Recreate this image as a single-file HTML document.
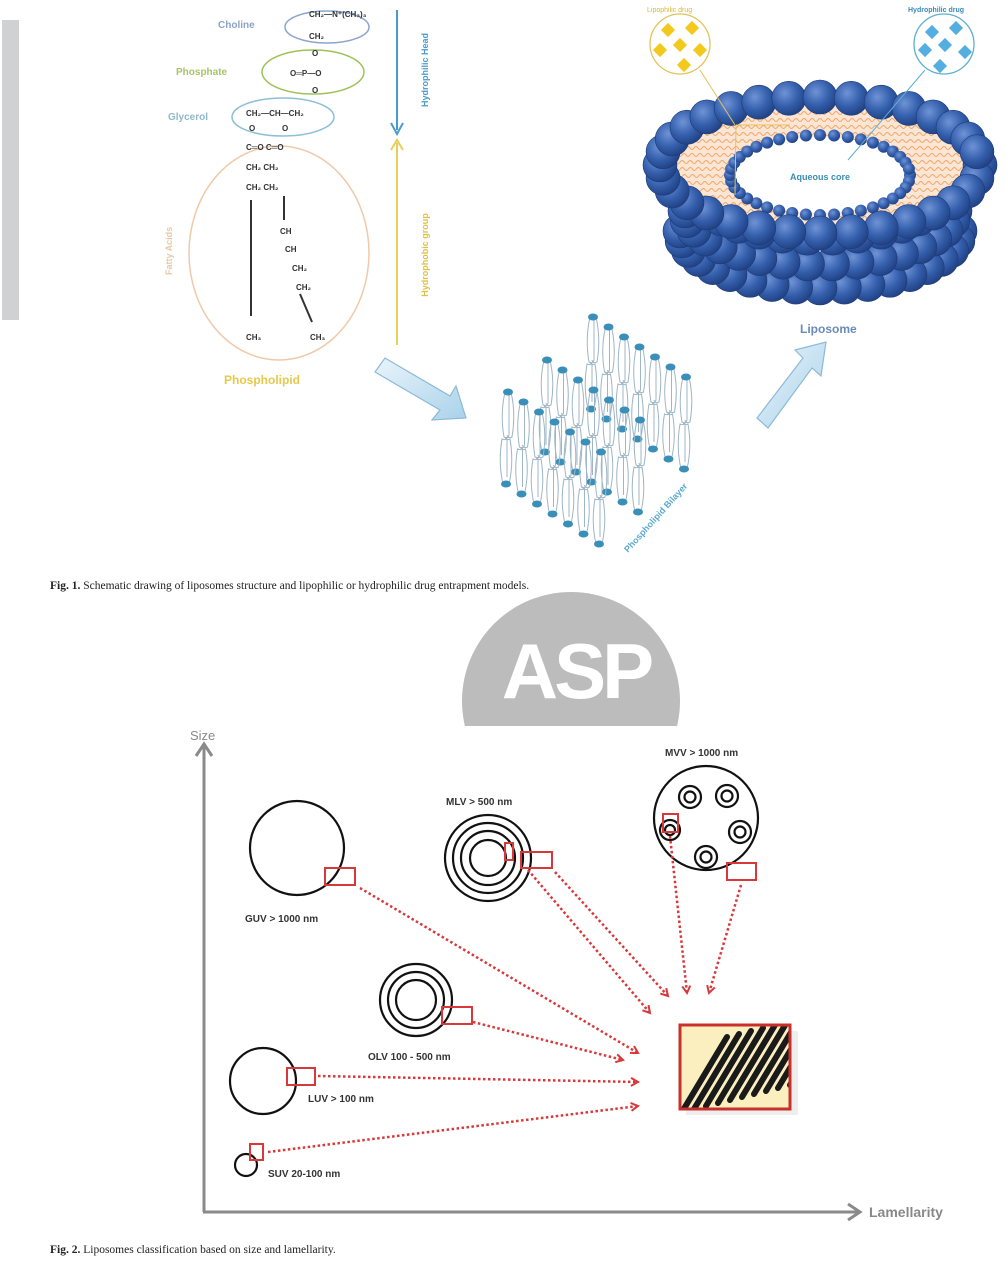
<!DOCTYPE html>
<html><head><meta charset="utf-8"><style>
html,body{margin:0;padding:0;background:#fff;}
svg{display:block;}
</style></head><body>
<svg id="s" width="1007" height="1271" viewBox="0 0 1007 1271" xmlns="http://www.w3.org/2000/svg" font-family="Liberation Sans, sans-serif">
<defs>
<radialGradient id="bead" cx="0.38" cy="0.35" r="0.7">
<stop offset="0" stop-color="#6f93d6"/><stop offset="0.55" stop-color="#3560ad"/><stop offset="1" stop-color="#1f3f80"/>
</radialGradient>
<linearGradient id="arr" x1="0" y1="0" x2="1" y2="1"><stop offset="0" stop-color="#eaf4fb"/><stop offset="1" stop-color="#a9d2ea"/></linearGradient>
<marker id="rh" viewBox="0 0 10 10" refX="8" refY="5" markerWidth="4" markerHeight="4" orient="auto"><path d="M1,1 L8,5 L1,9" fill="none" stroke="#d9383a" stroke-width="2"/></marker>
<clipPath id="cl"><rect x="0" y="590" width="1007" height="136"/></clipPath>
<clipPath id="boxc"><rect x="681" y="1026" width="108" height="82"/></clipPath>
</defs>
<rect x="2" y="20" width="17" height="300" fill="#cfd1d3"/>

<g font-size="10" font-weight="bold">
<text x="218" y="28" fill="#8aa3c6">Choline</text>
<text x="176" y="75" fill="#a7c46a">Phosphate</text>
<text x="168" y="120" fill="#90b8cc">Glycerol</text>
<text x="172" y="275" fill="#e6c9a4" transform="rotate(-90 172 275)" font-size="9">Fatty Acids</text>
<text x="224" y="384" fill="#e8c84a" font-size="12">Phospholipid</text>
</g>
<ellipse cx="327" cy="27" rx="42" ry="16" fill="none" stroke="#8ba5cf" stroke-width="1.5"/>
<ellipse cx="313" cy="72" rx="51" ry="22" fill="none" stroke="#9dc25a" stroke-width="1.5"/>
<ellipse cx="283" cy="117" rx="51" ry="19" fill="none" stroke="#8dc0d6" stroke-width="1.5"/>
<ellipse cx="279" cy="253" rx="90" ry="107" fill="none" stroke="#f0c9a9" stroke-width="1.5"/>
<g font-size="8" fill="#333" font-weight="bold">
<text x="309" y="17">CH₂—N⁺(CH₃)₃</text>
<text x="309" y="39">CH₂</text>
<text x="312" y="56">O</text>
<text x="290" y="76">O═P—O</text>
<text x="312" y="93">O</text>
<text x="246" y="116">CH₂—CH—CH₂</text>
<text x="249" y="131">O</text><text x="282" y="131">O</text>
<text x="246" y="150">C═O C═O</text>
<text x="246" y="170">CH₂ CH₂</text>
<text x="246" y="190">CH₂ CH₂</text>
<text x="280" y="234">CH</text><text x="285" y="252">CH</text>
<text x="292" y="271">CH₂</text><text x="296" y="290">CH₂</text>
<text x="246" y="340">CH₃</text><text x="310" y="340">CH₃</text>
</g>
<g stroke="#333" stroke-width="2" fill="none">
<line x1="251" y1="200" x2="251" y2="316"/>
<line x1="284" y1="196" x2="284" y2="220"/>
<line x1="300" y1="294" x2="312" y2="322"/>
</g>
<g stroke="#4a9bc9" stroke-width="2"><line x1="397" y1="10" x2="397" y2="130"/></g>
<path d="M391,123 L397,134 L403,123" fill="none" stroke="#4a9bc9" stroke-width="2"/>
<line x1="397" y1="143" x2="397" y2="345" stroke="#e8cf5a" stroke-width="2"/>
<path d="M391,150 L397,140 L403,150" fill="none" stroke="#e8cf5a" stroke-width="2"/>
<text x="428" y="70" fill="#4a9bc9" font-size="9" font-weight="bold" transform="rotate(-90 428 70)" text-anchor="middle">Hydrophilic Head</text>
<text x="428" y="255" fill="#e0c040" font-size="9" font-weight="bold" transform="rotate(-90 428 255)" text-anchor="middle">Hydrophobic group</text>

<path d="M375,372 L385,358 L450,396 L456,386 L466,418 L432,420 L440,410 Z" fill="url(#arr)" stroke="#8cbad6" stroke-width="1.2"/>
<path d="M757,418 L768,428 L812,368 L821,376 L826,342 L795,350 L803,358 Z" fill="url(#arr)" stroke="#8cbad6" stroke-width="1.2"/>

<g id="bilayer"></g>
<text x="628" y="553" fill="#5aa9cf" font-size="9" font-weight="bold" transform="rotate(-48 628 553)">Phospholipid Bilayer</text>

<g id="lipo"></g>
<text x="800" y="333" fill="#6a8ab8" font-size="12" font-weight="bold">Liposome</text>
<text x="647" y="12" fill="#d9b63a" font-size="7">Lipophilic drug</text>
<text x="908" y="12" fill="#3a8ab5" font-size="7" font-weight="bold">Hydrophilic drug</text>
<circle cx="680" cy="44" r="30" fill="#fff" stroke="#e2c35a" stroke-width="1.3"/>
<circle cx="944" cy="44" r="30" fill="#fff" stroke="#5ab0cf" stroke-width="1.3"/>
<g id="drugs"></g>
<line x1="700" y1="70" x2="735" y2="125" stroke="#e2c35a" stroke-width="1"/>
<line x1="925" y1="70" x2="848" y2="160" stroke="#5ab0cf" stroke-width="1"/>

<text x="50" y="589" font-family="Liberation Serif, serif" font-size="11.5" fill="#222"><tspan font-weight="bold">Fig. 1.</tspan>   Schematic drawing of liposomes structure and lipophilic or hydrophilic drug entrapment models.</text>

<g clip-path="url(#cl)"><circle cx="571" cy="701" r="109" fill="#bcbcbc"/></g>
<text x="576" y="698" text-anchor="middle" font-size="78" font-weight="bold" fill="#fff" letter-spacing="-4">ASP</text>

<g stroke="#8a8a8a" stroke-width="3" fill="none">
<line x1="204" y1="747" x2="204" y2="1212"/>
<line x1="203" y1="1212" x2="858" y2="1212"/>
<path d="M196,756 L204,744 L212,756"/>
<path d="M848,1204 L860,1212 L848,1220"/>
</g>
<text x="190" y="740" font-size="13" fill="#888">Size</text>
<text x="869" y="1217" font-size="14" fill="#888" font-weight="bold">Lamellarity</text>

<g fill="none" stroke="#111" stroke-width="2.2">
<circle cx="297" cy="848" r="47"/>
<circle cx="488" cy="858" r="43"/><circle cx="488" cy="858" r="35"/><circle cx="488" cy="858" r="27"/><circle cx="488" cy="858" r="18"/>
<circle cx="706" cy="818" r="52"/>
<circle cx="690" cy="797" r="11"/><circle cx="690" cy="797" r="5.5"/>
<circle cx="727" cy="796" r="11"/><circle cx="727" cy="796" r="5.5"/>
<circle cx="740" cy="832" r="11"/><circle cx="740" cy="832" r="5.5"/>
<circle cx="706" cy="857" r="11"/><circle cx="706" cy="857" r="5.5"/>
<circle cx="670" cy="830" r="10"/><circle cx="670" cy="830" r="5"/>
<circle cx="416" cy="1000" r="36"/><circle cx="416" cy="1000" r="28"/><circle cx="416" cy="1000" r="20"/>
<circle cx="263" cy="1081" r="33"/>
<circle cx="246" cy="1165" r="11"/>
</g>
<g fill="none" stroke="#d9383a" stroke-width="2">
<rect x="325" y="868" width="30" height="17"/>
<rect x="505" y="843" width="8" height="17"/>
<rect x="521" y="852" width="31" height="16"/>
<rect x="663" y="814" width="15" height="18"/>
<rect x="727" y="863" width="29" height="17"/>
<rect x="442" y="1007" width="30" height="17"/>
<rect x="287" y="1068" width="28" height="17"/>
<rect x="250" y="1144" width="13" height="16"/>
</g>
<g stroke="#d9383a" stroke-width="2.5" stroke-dasharray="2.5 2.5" fill="none" marker-end="url(#rh)">
<line x1="360" y1="888" x2="638" y2="1053"/>
<line x1="528" y1="870" x2="650" y2="1013"/>
<line x1="555" y1="872" x2="668" y2="996"/>
<line x1="670" y1="836" x2="687" y2="993"/>
<line x1="741" y1="885" x2="709" y2="993"/>
<line x1="473" y1="1022" x2="623" y2="1060"/>
<line x1="318" y1="1076" x2="638" y2="1082"/>
<line x1="268" y1="1152" x2="638" y2="1106"/>
</g>
<g font-size="10" font-weight="bold" fill="#333">
<text x="245" y="922">GUV &gt; 1000 nm</text>
<text x="446" y="805">MLV &gt; 500 nm</text>
<text x="665" y="756">MVV &gt; 1000 nm</text>
<text x="368" y="1060">OLV 100 - 500 nm</text>
<text x="308" y="1102">LUV  &gt; 100 nm</text>
<text x="268" y="1177">SUV 20-100 nm</text>
</g>
<rect x="686" y="1031" width="112" height="84" fill="#ddd" opacity="0.5"/>
<rect x="680" y="1025" width="110" height="84" fill="#fbefc0"/>
<g id="stripes" stroke="#1a1a1a" stroke-width="6" stroke-linecap="round" clip-path="url(#boxc)"></g>
<rect x="680" y="1025" width="110" height="84" fill="none" stroke="#c9302c" stroke-width="3"/>
<text x="50" y="1253" font-family="Liberation Serif, serif" font-size="11.5" fill="#222"><tspan font-weight="bold">Fig. 2.</tspan>   Liposomes classification based on size and lamellarity.</text>
</svg>
<script>
var NS="http://www.w3.org/2000/svg";
function el(p,t,a){var e=document.createElementNS(NS,t);for(var k in a)e.setAttribute(k,a[k]);p.appendChild(e);return e;}
var L=document.getElementById('lipo');
var cx=820,cy=165;
var RX=[140,135,122,104,80],RY=[60,56,50,42,32],DY=[86,66,46,28,12];
for(var r=0;r<5;r++){var n=Math.round(RX[r]/8);
 for(var i=0;i<=n;i++){var a=Math.PI*i/n;el(L,'circle',{cx:cx+RX[r]*Math.cos(a),cy:cy+DY[r]+RY[r]*Math.sin(a)*0.95-20,r:17,fill:'url(#bead)',stroke:'#1d3a78','stroke-width':0.6});}}
el(L,'ellipse',{cx:cx,cy:cy,rx:152,ry:60,fill:'#fbe6d6'});
var w='';for(var y=cy-52;y<cy+58;y+=7){var ww=Math.sqrt(Math.max(0,1-Math.pow((y-cy)/60,2)))*148;var p='M'+(cx-ww)+','+y;for(var x=cx-ww;x<cx+ww;x+=8)p+=' q2,-3 4,0 q2,3 4,0';w+=p+' ';}
el(L,'path',{d:w,fill:'none',stroke:'#f0a868','stroke-width':1.1});
el(L,'ellipse',{cx:cx,cy:cy+10,rx:88,ry:38,fill:'#fff'});
for(var i=0;i<40;i++){var a=2*Math.PI*i/40;el(L,'circle',{cx:cx+90*Math.cos(a),cy:cy+10+40*Math.sin(a),r:6,fill:'url(#bead)'});}
var t=el(L,'text',{x:cx,y:cy+15,'text-anchor':'middle','font-size':9,'font-weight':'bold',fill:'#3a8fb0'});t.textContent='Aqueous core';
var n=32;for(var i=0;i<n;i++){var a=2*Math.PI*i/n;el(L,'circle',{cx:cx+160*Math.cos(a),cy:cy+68*Math.sin(a),r:17,fill:'url(#bead)',stroke:'#1d3a78','stroke-width':0.6});}
el(L,'line',{x1:736,y1:125,x2:735,y2:195,stroke:'#e2c35a','stroke-width':1});
el(L,'line',{x1:736,y1:125,x2:790,y2:125,stroke:'#e2c35a','stroke-width':1});
var D=document.getElementById('drugs');
[[668,30],[692,28],[660,50],[680,45],[700,50],[684,65]].forEach(function(p){el(D,'rect',{x:p[0]-5,y:p[1]-5,width:10,height:10,fill:'#f3c91e',transform:'rotate(45 '+p[0]+' '+p[1]+')'});});
[[932,32],[956,28],[925,50],[945,45],[965,52],[940,66]].forEach(function(p){el(D,'rect',{x:p[0]-5,y:p[1]-5,width:10,height:10,fill:'#55aee0',transform:'rotate(45 '+p[0]+' '+p[1]+')'});});
var B=document.getElementById('bilayer');
function lipid(x,y,dir){var s=dir;el(B,'path',{d:'M'+(x-3)+','+y+' q-5,'+(22*s)+' -1,'+(45*s)+' q4,2 5,-2 q0,'+(-22*s)+' 0,'+(-40*s)+' M'+(x+3)+','+y+' q5,'+(22*s)+' 1,'+(45*s)+' q-4,2 -5,-2',fill:'none',stroke:'#9fb6c6','stroke-width':1});el(B,'ellipse',{cx:x,cy:y,rx:5,ry:3.5,fill:'#3a8fb8'});}
var rowsB=[[593,317,7],[547,360,7],[508,392,7]];
rowsB.forEach(function(r){for(var i=0;i<r[2];i++){var x=r[0]+i*15.5,y=r[1]+i*10;lipid(x,y,1);lipid(x-2,y+92,-1);}});
var S=document.getElementById('stripes');
for(var i=0;i<11;i++){var x0=672+i*12,y0=1112;el(S,'line',{x1:x0+10,y1:y0-i*3,x2:x0+55,y2:y0-75-i*3});}
</script>
</body></html>
